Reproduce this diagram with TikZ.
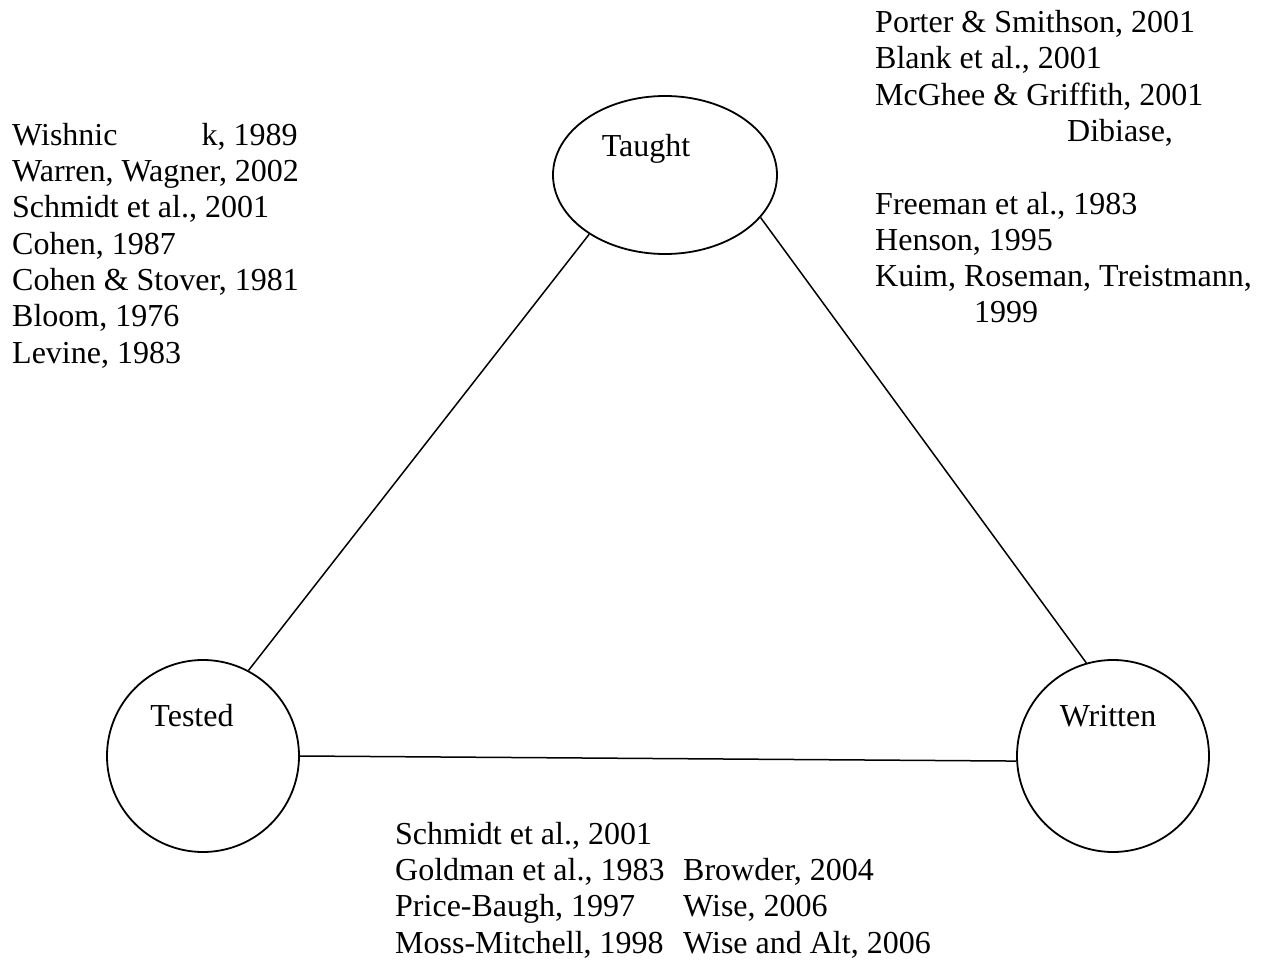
\documentclass[tikz,border=0pt]{standalone}
\usepackage{fontspec}
\setmainfont{Liberation Serif}
\usetikzlibrary{shapes.geometric}

\begin{document}
\begin{tikzpicture}[x=1pt,y=-1pt]
\tikzstyle{every node}+=[inner sep=0pt,font=\fontsize{32}{36.3}\selectfont]
\tikzstyle{vertex}=[draw,circle,minimum size=192pt,line width=1.8pt]
\tikzstyle{refs}=[anchor=base west,align=left]
\useasboundingbox (0,0) rectangle (1262,960);
\node [draw,ellipse,minimum width=224pt,minimum height=158pt,line width=1.8pt] (taught) at (665,175) {};
\node [vertex] (tested) at (203,756) {};
\node [vertex] (written) at (1113,756) {};
\node [anchor=base] (taughtlbl) at (646,157) {Taught};
\node [anchor=base] (testedlbl) at (192,726) {Tested};
\node [anchor=base] (writtenlbl) at (1108,726) {Written};
\draw [line width=1.5pt] (tested.62.9) -- (taught.218.2);
\draw [line width=1.5pt] (taught.336.4) -- (written.106.3);
\draw [line width=1.5pt] (tested.-0.6) -- (written.183.6);
\node [refs] (tauttested) at (12,363) {Wishnic\hspace*{84pt}k, 1989\\ Warren, Wagner, 2002\\ Schmidt et al., 2001\\ Cohen, 1987\\ Cohen \& Stover, 1981\\ Bloom, 1976\\ Levine, 1983};
\node [refs] (tautwritten) at (875,323) {Porter \& Smithson, 2001\\ Blank et al., 2001\\ McGhee \& Griffith, 2001\\ \hspace*{192pt}Dibiase,\\[36.3pt] Freeman et al., 1983\\ Henson, 1995\\ Kuim, Roseman, Treistmann,\\ \hspace*{99pt}1999};
\node [refs] (testwritten) at (395,953) {Schmidt et al., 2001\\ Goldman et al., 1983\\ Price-Baugh, 1997\\ Moss-Mitchell, 1998};
\node [refs] (testwrittenb) at (683,953) {Browder, 2004\\ Wise, 2006\\ Wise and Alt, 2006};
\end{tikzpicture}
\end{document}
